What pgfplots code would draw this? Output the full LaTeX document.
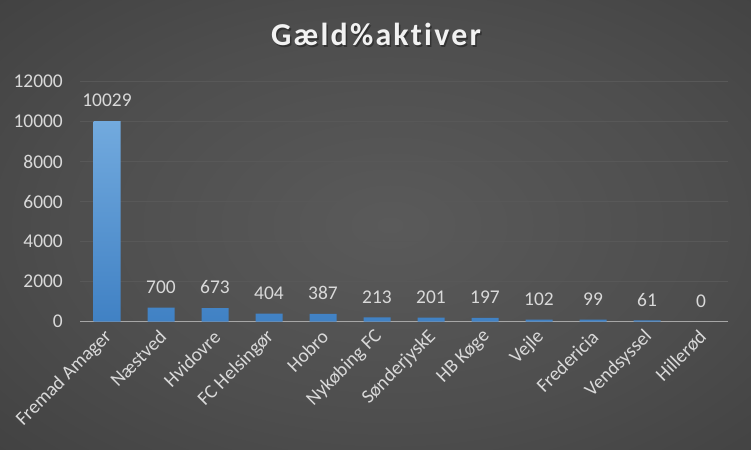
\documentclass[border=0pt]{standalone}
\usepackage{pgfplots}
\pgfplotsset{compat=1.18}
\usepackage{fontspec}
\setmainfont[Ligatures={NoCommon}]{Carlito}
\newfontfamily\titlefont[LetterSpace=7, Ligatures={NoCommon}]{Carlito}
\definecolor{txt}{RGB}{217,217,217}
\definecolor{titlec}{RGB}{242,242,242}
\definecolor{gridc}{RGB}{88,88,88}
\definecolor{axisc}{RGB}{166,166,166}
\definecolor{bartop}{RGB}{114,170,222}
\definecolor{barbot}{RGB}{64,129,196}
\definecolor{bgA}{RGB}{90,90,90}
\definecolor{bgB}{RGB}{78,78,78}
\definecolor{bgC}{RGB}{56,56,56}
\definecolor{bgD}{RGB}{36,36,36}
\pgfdeclareradialshading{bg}{\pgfpoint{0bp}{0bp}}{color(0bp)=(bgA); color(15bp)=(bgB); color(35bp)=(bgC); color(50bp)=(bgD)}
\pgfplotstableread{
x y
0 10029
1 700
2 673
3 404
4 387
5 213
6 201
7 197
8 102
9 99
10 61
}\bars
\pgfplotstableread{
x y
11 0
}\zerobar
\begin{document}
\begin{tikzpicture}
\begin{scope}
\clip (0,0) rectangle (751bp,450bp);
\shade[shading=bg] (-130bp,-95bp) rectangle (910bp,545bp);
\end{scope}
\useasboundingbox (0,0) rectangle (751bp,450bp);
\node[font=\titlefont\bfseries\fontsize{32}{36}\selectfont, text=black, opacity=0.35, anchor=base, inner sep=0pt] at (377.5bp,402.5bp) {Gæld\%aktiver};
\node[font=\titlefont\bfseries\fontsize{32}{36}\selectfont, text=titlec, anchor=base, inner sep=0pt] at (376bp,404bp) {Gæld\%aktiver};
\begin{axis}[
  at={(80bp,128.3bp)}, anchor=south west,
  width=648bp, height=240bp, scale only axis,
  xmin=-0.5, xmax=11.5, ymin=0, ymax=12000,
  ytick={0,2000,...,12000},
  xtick={0,...,11},
  xticklabels={Fremad Amager,Næstved,Hvidovre,FC Helsingør,Hobro,Nykøbing FC,SønderjyskE,HB Køge,Vejle,Fredericia,Vendsyssel,Hillerød},
  ymajorgrids, grid style={gridc, line width=1bp},
  extra y ticks={0}, extra y tick labels={},
  extra y tick style={grid style={axisc, line width=1.5bp}},
  axis line style={draw=none},
  major tick length=0pt,
  tick label style={font=\fontsize{19.5}{21}\selectfont, text=txt},
  /pgf/number format/assume math mode=true,
  /pgf/number format/1000 sep={},
  scaled y ticks=false,
  yticklabel style={anchor=east, inner sep=0pt, xshift=-17bp},
  xticklabel style={inner sep=0pt, yshift=-12bp, xshift=2bp, rotate=45, anchor=east},
  ybar, bar width=27bp,
  nodes near coords,
  every node near coord/.append style={font=\fontsize{19.5}{21}\selectfont, text=txt, inner sep=0pt, yshift=14bp},
  clip=false,
]
\addplot[draw=none, top color=bartop, bottom color=barbot, bar shift=0pt] table[x=x, y=y] {\bars};
\addplot[draw=none, fill=none, bar shift=0pt] table[x=x, y=y] {\zerobar};
\end{axis}
\end{tikzpicture}
\end{document}
